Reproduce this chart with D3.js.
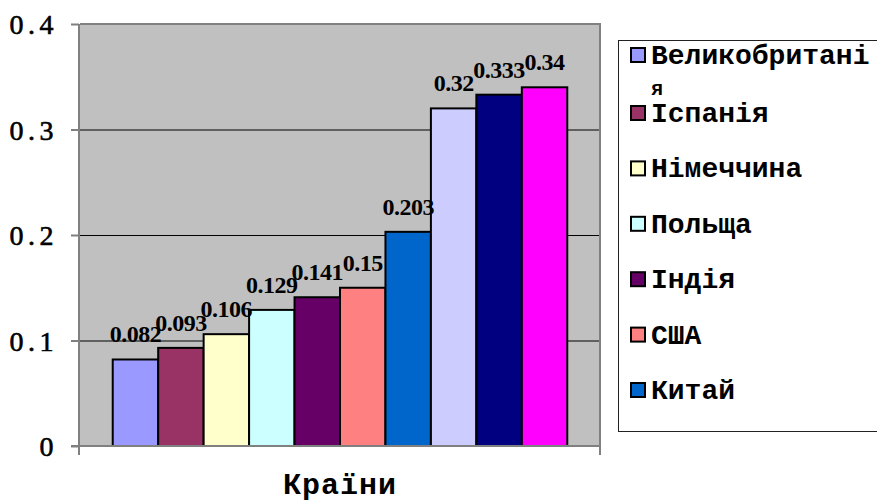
<!DOCTYPE html>
<html>
<head>
<meta charset="utf-8">
<script src="https://cdn.jsdelivr.net/npm/d3@7"></script>
<style>
  html, body { margin: 0; padding: 0; background: #fff; }
  svg { display: block; }
</style>
</head>
<body>
<svg id="chart" width="877" height="502"></svg>
<script>
// ---- data ----
const values = [0.082, 0.093, 0.106, 0.129, 0.141, 0.15, 0.203, 0.32, 0.333, 0.34];
const valueLabels = ["0.082", "0.093", "0.106", "0.129", "0.141", "0.15", "0.203", "0.32", "0.333", "0.34"];
const colors = ["#9999FF", "#993366", "#FFFFCC", "#CCFFFF", "#660066", "#FF8080", "#0066CC", "#CCCCFF", "#000080", "#FF00FF"];
const legendNames = ["Великобритані", "Іспанія", "Німеччина", "Польща", "Індія", "США", "Китай"];
const legendWrap = ["я", "", "", "", "", "", ""];
const yTicks = [0, 0.1, 0.2, 0.3, 0.4];
const yTickLabels = ["0", "0.1", "0.2", "0.3", "0.4"];
const xTitle = "Країни";

// ---- layout ----
const svg = d3.select("#chart");
const plot = { left: 80, right: 600, top: 24, bottom: 446 };

const y = d3.scaleLinear().domain([0, 0.4]).range([plot.bottom, plot.top]);
const x = d3.scaleBand().domain(d3.range(values.length))
  .range([plot.left, plot.right]).paddingInner(0).paddingOuter(0.72);

// plot background
svg.append("rect")
  .attr("x", plot.left).attr("y", plot.top)
  .attr("width", plot.right - plot.left).attr("height", plot.bottom - plot.top)
  .attr("fill", "#C0C0C0");

// gridlines
svg.append("g")
  .attr("transform", `translate(${plot.left},0)`)
  .call(d3.axisLeft(y).tickValues(yTicks.filter(v => v > 0 && v < 0.4)).tickSize(-(plot.right - plot.left)).tickFormat(""))
  .call(g => g.select(".domain").remove())
  .call(g => g.selectAll("line").attr("stroke", "#000").attr("stroke-width", 1));

// plot border (top & right)
svg.append("path")
  .attr("d", `M${plot.left},${plot.top}H${plot.right}V${plot.bottom}`)
  .attr("fill", "none").attr("stroke", "#808080").attr("stroke-width", 2);

// bars
svg.append("g").selectAll("rect").data(values).join("rect")
  .attr("x", (d, i) => x(i))
  .attr("y", d => y(d))
  .attr("width", x.bandwidth())
  .attr("height", d => y(0) - y(d))
  .attr("fill", (d, i) => colors[i])
  .attr("stroke", "#000").attr("stroke-width", 2);

// data labels
svg.append("g").selectAll("text").data(values).join("text")
  .attr("x", (d, i) => x(i) + x.bandwidth() / 2)
  .attr("y", d => y(d) - 17)
  .attr("text-anchor", "middle")
  .attr("font-family", "'Liberation Serif', 'Times New Roman', serif")
  .attr("font-weight", "bold")
  .attr("font-size", 24)
  .attr("fill", "#000")
  .style("letter-spacing", "-0.5px")
  .text((d, i) => valueLabels[i]);

// y axis
const yAxis = svg.append("g")
  .attr("transform", `translate(${plot.left - 1},0)`)
  .call(d3.axisLeft(y).tickValues(yTicks).tickSize(8).tickPadding(13)
    .tickFormat((d, i) => yTickLabels[i]));
yAxis.select(".domain").remove();
yAxis.selectAll("line").attr("stroke", "#808080").attr("stroke-width", 2);
yAxis.selectAll("text")
  .attr("font-family", "'Liberation Serif', 'Times New Roman', serif")
  .attr("font-size", 28)
  .attr("fill", "#000")
  .attr("stroke", "#000").attr("stroke-width", 0.6)
  .attr("dy", "0.34em")
  .style("letter-spacing", "4.5px");
svg.append("line")
  .attr("x1", plot.left - 1).attr("x2", plot.left - 1)
  .attr("y1", plot.top).attr("y2", plot.bottom + 9)
  .attr("stroke", "#808080").attr("stroke-width", 2);

// x axis
svg.append("line")
  .attr("x1", plot.left - 9).attr("x2", plot.right)
  .attr("y1", plot.bottom).attr("y2", plot.bottom)
  .attr("stroke", "#808080").attr("stroke-width", 2);
svg.append("line")
  .attr("x1", plot.right).attr("x2", plot.right)
  .attr("y1", plot.bottom).attr("y2", plot.bottom + 9)
  .attr("stroke", "#808080").attr("stroke-width", 2);

// x title
svg.append("text")
  .attr("x", 340).attr("y", 494)
  .attr("text-anchor", "middle")
  .attr("font-family", "'Liberation Mono', 'Courier New', monospace")
  .attr("font-weight", "bold")
  .attr("font-size", 30)
  .attr("fill", "#000")
  .style("letter-spacing", "1px")
  .text(xTitle);

// legend
svg.append("rect")
  .attr("x", 618.5).attr("y", 40.5)
  .attr("width", 300).attr("height", 391)
  .attr("fill", "#fff").attr("stroke", "#222").attr("stroke-width", 1);

const legendY = d3.scaleLinear().domain([1, 6]).range([122, 399]);
const baseline = i => i === 0 ? 64 : legendY(i);
const lg = svg.append("g").selectAll("g").data(legendNames).join("g");
lg.append("rect")
  .attr("x", 631).attr("y", (d, i) => baseline(i) - 16)
  .attr("width", 14).attr("height", 14)
  .attr("fill", (d, i) => colors[i])
  .attr("stroke", "#000").attr("stroke-width", 2);
lg.append("text")
  .attr("x", 651).attr("y", (d, i) => baseline(i))
  .attr("font-family", "'Liberation Mono', 'Courier New', monospace")
  .attr("font-weight", "bold")
  .attr("font-size", 28)
  .attr("fill", "#000")
  .text(d => d);
lg.filter((d, i) => legendWrap[i] !== "").append("text")
  .attr("x", 651).attr("y", (d, i) => baseline(i) + 31)
  .attr("font-family", "'Liberation Mono', 'Courier New', monospace")
  .attr("font-weight", "bold")
  .attr("font-size", 20)
  .attr("fill", "#000")
  .text((d, i) => legendWrap[legendNames.indexOf(d)]);
</script>
</body>
</html>
